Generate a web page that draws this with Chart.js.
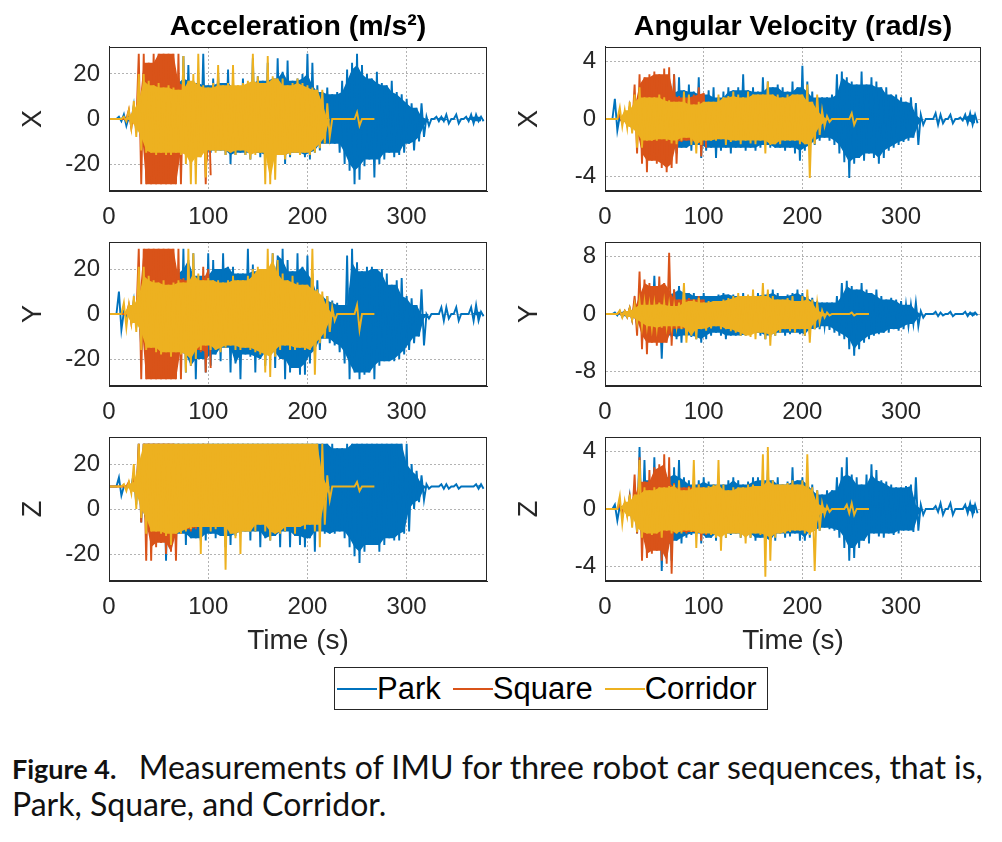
<!DOCTYPE html>
<html>
<head>
<meta charset="utf-8">
<title>IMU measurements</title>
<script src="https://cdn.jsdelivr.net/npm/chart.js@4.4.1/dist/chart.umd.min.js"></script>
<style>
  body { margin: 0; background: #fff; width: 1002px; height: 842px; position: relative; overflow: hidden;
         font-family: "Liberation Sans", Arial, Helvetica, sans-serif; }
  .panel { position: absolute; }
  #legend { position: absolute; left: 334px; top: 667px; width: 432px; height: 41px; border: 1px solid #262626;
            display: flex; align-items: center; font-size: 31px; color: #000; background: #fff; }
  #legend .sw { display: inline-block; width: 40px; height: 2px; margin: 0; }
  #legend .it { display: flex; align-items: center; margin-left: 2px; margin-right: 10px; }
  #caption { position: absolute; left: 12px; top: 749px; font-family: Lato, "Noto Sans", sans-serif;
             font-size: 32px; line-height: 35px; color: #111; white-space: nowrap; }
  #caption b { font-weight: 700; font-size: 27px; margin-right: 6px; }
</style>
</head>
<body>
<div id="legend">
  <span class="it"><span class="sw" style="background:#0072BD"></span>Park</span>
  <span class="it"><span class="sw" style="background:#D95319"></span>Square</span>
  <span class="it"><span class="sw" style="background:#EDB120"></span>Corridor</span>
</div>
<div id="caption"><b>Figure 4.</b>&nbsp; Measurements of IMU for three robot car sequences, that is,<br>Park, Square, and Corridor.</div>
<script>
// one peak pair (high, low) per 5 s window
const BIN = 5;
const seriesNames = ['Park', 'Square', 'Corridor'];
const seriesColors = ['#0072BD', '#D95319', '#EDB120'];
const timeTicks = [0, 100, 200, 300];
const accTicks = [-20, 0, 20];
const gyrTicks = [-4, 0, 4];
const gyrYTicks = [-8, 0, 8];

// ---- acceleration X ----
const parkAccXHi = [0, 0, 1, 2, 1, 6, 9, 14, 16, 15,
  16, 14, 15, 16, 18, 28, 24, 17, 16, 29,
  15, 18, 20, 16, 22, 17, 14, 18, 16, 27,
  19, 17, 25, 18, 27, 21, 26, 17, 18, 20,
  29, 25, 15, 12, 14, 11, 12, 17, 22, 25,
  29, 24, 20, 18, 21, 16, 15, 17, 12, 11,
  9, 7, 5, 7, 1, 0, 1, 1, 2, 0,
  2, 0, 1, 2, 2, 1];
const parkAccXLo = [0, 0, -1, -3, -1, -6, -11, -14, -15, -16,
  -15, -16, -15, -16, -17, -15, -13, -15, -16, -18,
  -15, -14, -14, -16, -20, -16, -15, -16, -18, -15,
  -17, -16, -21, -17, -16, -20, -17, -15, -16, -17,
  -18, -15, -14, -11, -11, -11, -15, -20, -23, -29,
  -27, -21, -18, -26, -20, -18, -15, -17, -16, -15,
  -11, -14, -10, -8, -3, 0, -1, -1, -2, 0,
  -2, 0, -1, -2, -1, -1];
const sqAccXHi = [0, 0, 0, 0, 4, 3, 29, 29, 25, 29,
  29, 29, 29, 29, 29, 16, 15, 14, 16, 14, 13];
const sqAccXLo = [0, 0, 0, 0, -4, -3, -29, -29, -29, -29,
  -29, -29, -29, -29, -29, -14, -15, -16, -15, -29, -25];
const corAccXHi = [0, 0, 0, 1, 4, 8, 20, 20, 17, 15,
  16, 14, 15, 14, 13, 28, 17, 20, 29, 15,
  14, 16, 24, 15, 16, 24, 15, 16, 17, 29,
  19, 16, 28, 19, 18, 18, 15, 16, 18, 16,
  15, 14, 13, 13, 7, 0, 0, 0, 0, 0,
  3, 0, 0, 0];
const corAccXLo = [0, 0, 0, -1, -4, -8, -14, -15, -15, -16,
  -15, -16, -16, -15, -16, -20, -29, -29, -17, -26,
  -14, -15, -14, -16, -15, -16, -14, -16, -18, -16,
  -15, -29, -29, -27, -16, -18, -16, -15, -16, -15,
  -16, -15, -13, -11, -8, 0, 0, 0, 0, 0,
  -3, 0, 0, 0];

// ---- acceleration Y ----
const parkAccYHi = [0, 0, 10, 1, 1, 6, 12, 16, 18, 17,
  18, 16, 17, 18, 20, 29, 24, 27, 17, 17,
  27, 24, 20, 27, 21, 21, 18, 18, 29, 22,
  19, 20, 13, 27, 26, 29, 24, 19, 27, 21,
  26, 18, 15, 8, 8, 6, 5, 4, 26, 29,
  23, 19, 21, 21, 20, 20, 18, 13, 15, 16,
  8, 7, 4, 11, 0, 0, 0, 3, 3, 0,
  3, 0, 0, 3, 4, 1];
const parkAccYLo = [0, 0, -7, -1, -1, -6, -16, -17, -18, -17,
  -18, -17, -18, -17, -18, -26, -23, -29, -20, -26,
  -23, -18, -21, -15, -26, -22, -29, -18, -19, -26,
  -20, -23, -17, -24, -20, -29, -26, -24, -27, -27,
  -22, -18, -16, -11, -13, -14, -17, -22, -29, -26,
  -29, -27, -26, -29, -23, -21, -21, -21, -20, -18,
  -16, -13, -10, -14, -2, 0, 0, -3, -2, 0,
  -3, 0, 0, -3, -3, -1];
const sqAccYHi = [0, 0, 0, 0, 4, 3, 29, 29, 29, 29,
  29, 29, 29, 29, 29, 16, 15, 16, 15, 21, 20];
const sqAccYLo = [0, 0, 0, 0, -4, -3, -29, -29, -29, -29,
  -29, -29, -29, -29, -29, -15, -16, -16, -17, -26, -24];
const corAccYHi = [0, 0, 0, 5, 4, 8, 21, 21, 17, 15,
  14, 15, 13, 14, 15, 14, 29, 27, 18, 15,
  16, 15, 15, 14, 15, 17, 15, 15, 17, 20,
  21, 20, 29, 27, 24, 18, 15, 17, 14, 13,
  13, 29, 11, 10, 8, 3, 0, 0, 0, 0,
  4, 0, 0, 0];
const corAccYLo = [0, 0, 0, -6, -4, -8, -16, -16, -15, -17,
  -18, -17, -19, -17, -18, -26, -23, -20, -16, -14,
  -16, -16, -17, -15, -14, -16, -16, -15, -16, -17,
  -18, -26, -28, -19, -16, -14, -16, -16, -15, -16,
  -16, -27, -13, -11, -8, -3, 0, 0, 0, 0,
  -7, 0, 0, 0];

// ---- acceleration Z ----
const parkAccZHi = [10, 10, 14, 10, 10, 16, 29, 29, 29, 29,
  29, 29, 29, 29, 29, 29, 29, 29, 29, 29,
  29, 29, 29, 29, 29, 29, 29, 29, 29, 29,
  29, 29, 29, 29, 29, 29, 29, 29, 29, 29,
  29, 29, 29, 29, 29, 29, 27, 27, 29, 29,
  29, 29, 29, 29, 29, 29, 29, 29, 29, 29,
  29, 20, 17, 15, 11, 10, 10, 11, 11, 10,
  11, 10, 10, 10, 11, 11];
const parkAccZLo = [10, 10, 6, 10, 10, 2, -6, -10, -12, -14,
  -15, -23, -17, -16, -11, -16, -13, -13, -14, -14,
  -11, -13, -12, -17, -16, -12, -11, -10, -14, -10,
  -17, -13, -14, -12, -17, -10, -17, -12, -16, -17,
  -13, -19, -10, -11, -11, -11, -10, -13, -17, -21,
  -24, -19, -16, -16, -19, -16, -13, -14, -14, -11,
  -10, 0, 3, 4, 9, 10, 10, 9, 9, 10,
  9, 10, 10, 10, 9, 9];
const sqAccZHi = [10, 10, 10, 10, 12, 14, 29, 29, 29, 29,
  29, 29, 29, 29, 29, 27, 27, 27, 27, 29, 29];
const sqAccZLo = [10, 10, 10, 10, 8, 6, -6, -23, -23, -17,
  -15, -20, -19, -23, -11, -9, -10, -9, -8, -7, -5];
const corAccZHi = [10, 10, 10, 11, 12, 20, 29, 29, 29, 29,
  29, 29, 29, 29, 29, 29, 29, 29, 29, 29,
  29, 29, 29, 29, 29, 29, 29, 29, 29, 29,
  29, 29, 29, 29, 29, 29, 29, 29, 29, 29,
  29, 29, 29, 29, 15, 10, 10, 10, 10, 10,
  12, 10, 10, 10];
const corAccZLo = [10, 10, 10, 8, 7, 0, -4, -11, -10, -10,
  -11, -12, -16, -11, -11, -10, -9, -8, -20, -8,
  -10, -9, -8, -27, -11, -13, -20, -10, -10, -10,
  -7, -10, -14, -11, -11, -10, -8, -11, -8, -9,
  -7, -10, -17, -7, 4, 10, 10, 10, 10, 10,
  8, 10, 10, 10];

// ---- angular velocity X ----
const parkGyrXHi = [0, 0, 1.4, 0.2, 0.3, 0.8, 1.3, 1.6, 1.7, 1.6,
  1.7, 1.6, 1.7, 1.8, 3.1, 2.9, 2.0, 2.4, 1.9, 2.9,
  1.7, 2.0, 2.2, 1.5, 1.9, 2.2, 2.0, 2.2, 3.1, 2.0,
  2.2, 1.9, 2.9, 2.6, 2.2, 2.4, 2.2, 1.9, 2.6, 2.2,
  3.7, 2.6, 1.9, 1.5, 1.5, 1.5, 1.7, 3.1, 3.3, 2.9,
  2.6, 2.4, 3.3, 2.4, 2.9, 2.6, 2.2, 2.2, 1.7, 1.7,
  1.5, 1.2, 1.5, 1.1, 0.3, 0, 0, 0.4, 0.3, 0,
  0.3, 0, 0.1, 0.3, 0.4, 0.3];
const parkGyrXLo = [0, 0, -0.8, -0.2, -0.3, -0.8, -1.1, -1.8, -2.0, -1.9,
  -2.0, -1.9, -2.0, -2.0, -2.4, -2.0, -2.0, -2.2, -1.8, -2.7,
  -2.2, -2.0, -2.7, -2.2, -2.0, -2.4, -2.0, -2.0, -2.2, -2.0,
  -2.2, -2.0, -1.8, -2.0, -2.0, -2.0, -2.2, -2.0, -2.4, -2.9,
  -2.2, -2.0, -1.8, -1.5, -1.3, -1.5, -1.8, -2.4, -3.0, -4.1,
  -3.1, -2.7, -2.9, -2.4, -2.7, -3.1, -2.7, -2.2, -2.0, -1.8,
  -1.6, -1.5, -1.3, -1.8, -0.4, 0, 0, -0.4, -0.3, 0,
  -0.3, 0, -0.1, -0.3, -0.4, -0.3];
const sqGyrXHi = [0, 0, 0, 0.3, 0.4, 0.8, 2.4, 3.1, 2.9, 3.1,
  3.3, 3.1, 3.5, 3.6, 3.1, 1.6, 1.5, 1.6, 1.7, 2.2, 1.8];
const sqGyrXLo = [0, 0, 0, -0.3, -0.4, -0.8, -2.4, -3.1, -3.7, -2.9,
  -3.1, -3.4, -3.7, -3.4, -3.1, -1.6, -1.5, -1.6, -1.7, -2.6, -2.0];
const corGyrXHi = [0, 0, 0, 0.8, 0.6, 1.2, 1.7, 2.2, 1.5, 1.5,
  1.5, 1.7, 1.5, 1.3, 1.2, 1.2, 1.9, 1.7, 1.0, 1.2,
  1.2, 1.2, 1.2, 1.7, 1.5, 1.6, 1.9, 1.7, 1.5, 1.9,
  1.7, 1.7, 1.7, 2.6, 1.7, 1.7, 1.5, 1.7, 1.7, 1.7,
  1.7, 2.4, 1.2, 1.7, 0.6, 0.2, 0, 0, 0, 0,
  0.4, 0, 0, 0];
const corGyrXLo = [0, 0, 0, -0.5, -0.6, -1.0, -2.0, -2.0, -1.5, -1.5,
  -1.5, -1.4, -1.5, -1.7, -1.75, -1.5, -1.3, -1.8, -2.4, -1.8,
  -1.5, -1.5, -1.5, -1.4, -1.8, -1.6, -1.5, -1.75, -1.5, -1.7,
  -1.75, -1.5, -2.4, -1.8, -1.75, -1.75, -1.5, -1.5, -1.5, -1.75,
  -1.75, -4.1, -1.75, -1.1, -0.5, -0.2, 0, 0, 0, 0,
  -0.4, 0, 0, 0];

// ---- angular velocity Y ----
const parkGyrYHi = [0, 0, 0.2, 0.4, 0.4, 0.8, 1.6, 2.2, 2.4, 2.6,
  5.3, 2.8, 2.7, 2.9, 3.4, 3.9, 3.4, 2.9, 2.9, 2.5,
  2.9, 2.5, 2.5, 2.7, 2.9, 2.7, 2.7, 2.5, 2.9, 2.5,
  2.5, 2.9, 2.7, 2.9, 3.4, 2.9, 2.5, 2.7, 2.9, 3.4,
  2.9, 2.5, 2.25, 1.8, 1.6, 1.6, 1.6, 2.5, 4.3, 4.6,
  3.9, 3.4, 4.3, 3.4, 2.9, 3.4, 2.5, 2.0, 2.25, 2.0,
  1.8, 1.3, 1.3, 1.6, 0.4, 0, 0, 0.3, 0.2, 0,
  0.3, 0, 0, 0.3, 0.2, 0.2];
const parkGyrYLo = [0, 0, -0.2, -0.4, -0.4, -0.8, -1.7, -2.4, -2.6, -2.8,
  -3.0, -6.2, -3.0, -3.2, -3.5, -4.0, -3.0, -3.2, -3.5, -4.0,
  -3.5, -3.0, -2.6, -3.0, -3.5, -3.0, -3.0, -3.0, -3.0, -2.8,
  -2.6, -3.0, -3.5, -3.2, -3.0, -2.6, -3.0, -2.8, -2.6, -2.8,
  -3.0, -2.8, -2.1, -2.1, -1.7, -2.2, -2.6, -3.0, -3.5, -4.9,
  -5.8, -4.9, -4.0, -3.5, -3.0, -2.8, -2.6, -2.6, -2.1, -2.3,
  -2.1, -1.7, -1.4, -1.7, -0.5, 0, 0, -0.3, -0.2, 0,
  -0.3, 0, 0, -0.3, -0.2, -0.2];
const sqGyrYHi = [0, 0, 0, 0.3, 0.4, 0.8, 2.5, 5.9, 4.8, 4.3,
  3.9, 5.2, 4.3, 8.5, 3.4, 2.0, 2.0, 2.2, 2.0, 2.5, 2.0];
const sqGyrYLo = [0, 0, 0, -0.3, -0.4, -0.8, -3.0, -4.9, -5.6, -4.0,
  -4.4, -4.0, -4.0, -4.4, -2.1, -2.0, -2.2, -2.0, -2.1, -1.7, -1.5];
const corGyrYHi = [0, 0, 0, 0.5, 0.4, 0.8, 1.3, 1.8, 1.6, 1.3,
  1.4, 1.6, 1.6, 1.3, 1.1, 1.6, 4.3, 1.8, 2.0, 2.25,
  1.6, 1.8, 1.8, 1.8, 2.0, 2.2, 2.5, 2.9, 2.5, 2.7,
  3.4, 2.5, 4.3, 3.4, 2.5, 2.0, 2.0, 2.2, 2.5, 1.8,
  2.5, 3.4, 2.0, 1.6, 0.5, 0.2, 0, 0, 0, 0,
  0.2, 0, 0, 0];
const corGyrYLo = [0, 0, 0, -0.5, -0.4, -0.8, -1.2, -1.7, -1.7, -1.9,
  -1.9, -1.9, -1.7, -1.7, -1.7, -2.1, -4.0, -3.0, -3.5, -2.1,
  -2.3, -2.0, -1.7, -2.1, -2.1, -2.4, -2.6, -3.0, -3.0, -3.2,
  -3.5, -2.6, -3.5, -4.4, -3.0, -2.6, -2.1, -2.4, -2.6, -2.1,
  -3.0, -4.0, -2.1, -1.2, -0.5, -0.2, 0, 0, 0, 0,
  -0.2, 0, 0, 0];

// ---- angular velocity Z ----
const parkGyrZHi = [0, 0, 0.3, 0.2, 0.3, 0.9, 1.5, 4.3, 3.4, 2.0,
  3.6, 2.2, 2.2, 2.4, 2.9, 3.4, 2.2, 2.0, 1.7, 2.0,
  2.2, 1.9, 1.7, 2.0, 1.7, 2.0, 2.2, 2.0, 1.7, 1.9,
  2.2, 2.2, 2.0, 2.7, 2.0, 2.2, 1.7, 1.9, 2.9, 2.0,
  2.2, 2.0, 1.7, 1.3, 1.0, 1.3, 1.3, 2.2, 2.9, 3.6,
  2.4, 2.2, 1.7, 2.4, 3.1, 2.7, 2.0, 1.9, 1.7, 1.5,
  1.5, 1.6, 1.7, 2.2, 0.3, 0, 0, 0.2, 0.4, 0,
  0.4, 0, 0, 0.3, 0.4, 0.3];
const parkGyrZLo = [0, 0, -0.8, -0.2, -0.3, -0.9, -1.7, -2.2, -2.4, -2.4,
  -2.7, -4.3, -2.7, -3.6, -2.2, -2.4, -2.0, -1.8, -1.7, -2.4,
  -2.0, -2.0, -2.2, -1.7, -2.0, -1.8, -1.7, -2.0, -1.7, -2.0,
  -2.2, -2.0, -2.2, -2.2, -2.2, -1.7, -2.0, -1.9, -1.7, -2.2,
  -2.2, -2.0, -1.5, -1.5, -1.3, -1.4, -1.5, -2.0, -2.7, -3.6,
  -3.4, -2.7, -2.2, -2.4, -1.7, -1.9, -2.0, -1.7, -1.8, -1.7,
  -1.5, -1.5, -1.6, -1.5, -0.4, 0, 0, -0.2, -0.4, 0,
  -0.4, 0, 0, -0.3, -0.4, -0.3];
const sqGyrZHi = [0, 0, 0, 0.3, 0.4, 0.8, 2.4, 3.6, 1.9, 2.7,
  2.9, 3.1, 3.8, 3.6, 1.8, 1.5, 1.5, 1.6, 1.5, 1.7, 1.5];
const sqGyrZLo = [0, 0, 0, -0.3, -0.4, -0.8, -1.7, -3.6, -3.4, -3.1,
  -2.9, -3.6, -3.8, -4.5, -1.7, -1.6, -1.7, -1.6, -1.7, -2.2, -1.8];
const corGyrZHi = [0, 0, 0, 0.9, 0.5, 1.0, 1.0, 3.4, 1.5, 1.3,
  1.5, 1.5, 1.5, 1.6, 1.7, 2.0, 1.3, 1.5, 3.4, 1.7,
  1.5, 1.6, 1.7, 3.4, 1.7, 1.3, 1.5, 1.5, 1.5, 1.7,
  1.7, 1.6, 3.8, 4.3, 2.0, 1.7, 1.7, 1.8, 2.0, 1.7,
  2.0, 3.8, 1.5, 1.3, 0.4, 0.2, 0, 0, 0, 0.3,
  0.4, 0, 0, 0];
const corGyrZLo = [0, 0, 0, -1.0, -0.5, -1.3, -1.6, -2.0, -1.7, -1.8,
  -1.7, -2.0, -1.5, -1.7, -1.7, -1.7, -1.5, -1.6, -2.7, -1.7,
  -1.7, -1.8, -2.0, -2.9, -2.0, -1.7, -1.7, -2.0, -2.4, -2.0,
  -1.7, -1.8, -4.7, -3.6, -2.0, -1.7, -1.7, -1.6, -1.5, -1.5,
  -1.7, -1.8, -4.3, -1.5, -0.4, -0.2, 0, 0, 0, -0.3,
  -0.4, 0, 0, 0];

// the trace itself: high at the start of each window, low half a window later
function trace(hi, lo) {
  const pts = [];
  hi.forEach((h, i) => {
    pts.push({x: i * BIN, y: h});
    pts.push({x: i * BIN + BIN / 2, y: lo[i]});
  });
  return pts;
}
// dense core of the trace: the part every neighbouring window also reaches
function core(vals, pick, shift) {
  return vals.map((v, i) => ({
    x: i * BIN + shift,
    y: pick(vals[Math.max(i - 1, 0)], v, vals[Math.min(i + 1, vals.length - 1)])
  }));
}

const panels = [
  {title: 'Acceleration (m/s\u00B2)', axis: 'X', lim: 32, ticks: accTicks,
   data: [[parkAccXHi, parkAccXLo], [sqAccXHi, sqAccXLo], [corAccXHi, corAccXLo]]},
  {title: 'Angular Velocity (rad/s)', axis: 'X', lim: 5, ticks: gyrTicks,
   data: [[parkGyrXHi, parkGyrXLo], [sqGyrXHi, sqGyrXLo], [corGyrXHi, corGyrXLo]]},
  {axis: 'Y', lim: 32, ticks: accTicks,
   data: [[parkAccYHi, parkAccYLo], [sqAccYHi, sqAccYLo], [corAccYHi, corAccYLo]]},
  {axis: 'Y', lim: 10, ticks: gyrYTicks,
   data: [[parkGyrYHi, parkGyrYLo], [sqGyrYHi, sqGyrYLo], [corGyrYHi, corGyrYLo]]},
  {axis: 'Z', lim: 32, ticks: accTicks, xlabel: 'Time (s)',
   data: [[parkAccZHi, parkAccZLo], [sqAccZHi, sqAccZLo], [corAccZHi, corAccZLo]]},
  {axis: 'Z', lim: 5, ticks: gyrTicks, xlabel: 'Time (s)',
   data: [[parkGyrZHi, parkGyrZLo], [sqGyrZHi, sqGyrZLo], [corGyrZHi, corGyrZLo]]}
];

// page geometry of each subplot box
const cols = [{left: 0, width: 493}, {left: 496, width: 491}];
const rows = [{top: 10, height: 221, pad: 0, xh: 40},
              {top: 237, height: 189, pad: 5, xh: 40},
              {top: 432, height: 226, pad: 5, xh: 77}];

const FONT = '"Liberation Sans", Arial, Helvetica, sans-serif';
const INK = '#262626';

const boxFrame = {
  id: 'boxFrame',
  afterDraw(chart) {
    const a = chart.chartArea, ctx = chart.ctx;
    ctx.save();
    ctx.strokeStyle = INK;
    ctx.lineWidth = 1;
    ctx.strokeRect(Math.round(a.left) + 0.5, Math.round(a.top) + 0.5,
      Math.round(a.right - a.left) - 1, Math.round(a.bottom - a.top) - 1);
    ctx.restore();
  }
};

panels.forEach((p, i) => {
  const col = cols[i % 2], row = rows[Math.floor(i / 2)];
  const div = document.createElement('div');
  div.className = 'panel';
  div.style.left = col.left + 'px';
  div.style.top = row.top + 'px';
  const cv = document.createElement('canvas');
  cv.width = col.width;
  cv.height = row.height;
  div.appendChild(cv);
  document.body.appendChild(div);

  const datasets = [];
  p.data.forEach((d, k) => {
    const c = seriesColors[k];
    const base = (3 - k) * 3;   // Corridor drawn on top, Park at the bottom
    datasets.push({label: seriesNames[k] + ' core', data: core(d[0], Math.min, 0),
      borderWidth: 0, borderColor: c, backgroundColor: c, pointRadius: 0, fill: '+1', order: base});
    datasets.push({label: seriesNames[k] + ' core low', data: core(d[1], Math.max, BIN / 2),
      borderWidth: 0, borderColor: c, backgroundColor: c, pointRadius: 0, fill: false, order: base - 1});
    datasets.push({label: seriesNames[k], data: trace(d[0], d[1]),
      borderWidth: 1.9, borderColor: c, backgroundColor: c, pointRadius: 0, fill: false, order: base - 2});
  });

  new Chart(cv, {
    type: 'line',
    data: {datasets: datasets},
    options: {
      responsive: false,
      animation: false,
      devicePixelRatio: 1,
      events: [],
      layout: {padding: {top: row.pad, right: 6, left: 0, bottom: 0}},
      elements: {line: {tension: 0}},
      plugins: {
        legend: {display: false},
        tooltip: {enabled: false},
        title: {
          display: !!p.title,
          text: p.title || '',
          fullSize: false,
          color: '#000',
          font: {family: FONT, size: 28.5, weight: 'bold'},
          padding: {top: 0, bottom: 2.8}
        }
      },
      scales: {
        x: {
          type: 'linear', min: 0, max: 381,
          afterBuildTicks: s => { s.ticks = timeTicks.map(v => ({value: v})); },
          afterFit: s => { s.height = row.xh; s.paddingLeft = 0; s.paddingRight = 0; },
          ticks: {autoSkip: false, maxRotation: 0, padding: 12, color: INK,
                  font: {family: FONT, size: 24}, callback: v => String(v)},
          grid: {color: 'rgba(38,38,38,0.35)', lineWidth: 1, drawTicks: false},
          border: {display: true, color: INK, width: 1, dash: [2, 2]},
          title: {display: !!p.xlabel, text: p.xlabel || '', color: INK,
                  font: {family: FONT, size: 28}, padding: {top: 0, bottom: 0}}
        },
        y: {
          type: 'linear', min: -p.lim, max: p.lim,
          afterBuildTicks: s => { s.ticks = p.ticks.map(v => ({value: v})); },
          afterFit: s => { s.width = 109; s.paddingTop = 0; s.paddingBottom = 0; },
          ticks: {autoSkip: false, padding: 9, color: INK,
                  font: {family: FONT, size: 24}, callback: v => String(v)},
          grid: {color: 'rgba(38,38,38,0.35)', lineWidth: 1, drawTicks: false},
          border: {display: true, color: INK, width: 1, dash: [2, 2]},
          title: {display: true, text: p.axis, color: INK,
                  font: {family: FONT, size: 27}, padding: {top: 17, bottom: 0}}
        }
      }
    },
    plugins: [boxFrame]
  });
});
</script>
</body>
</html>
